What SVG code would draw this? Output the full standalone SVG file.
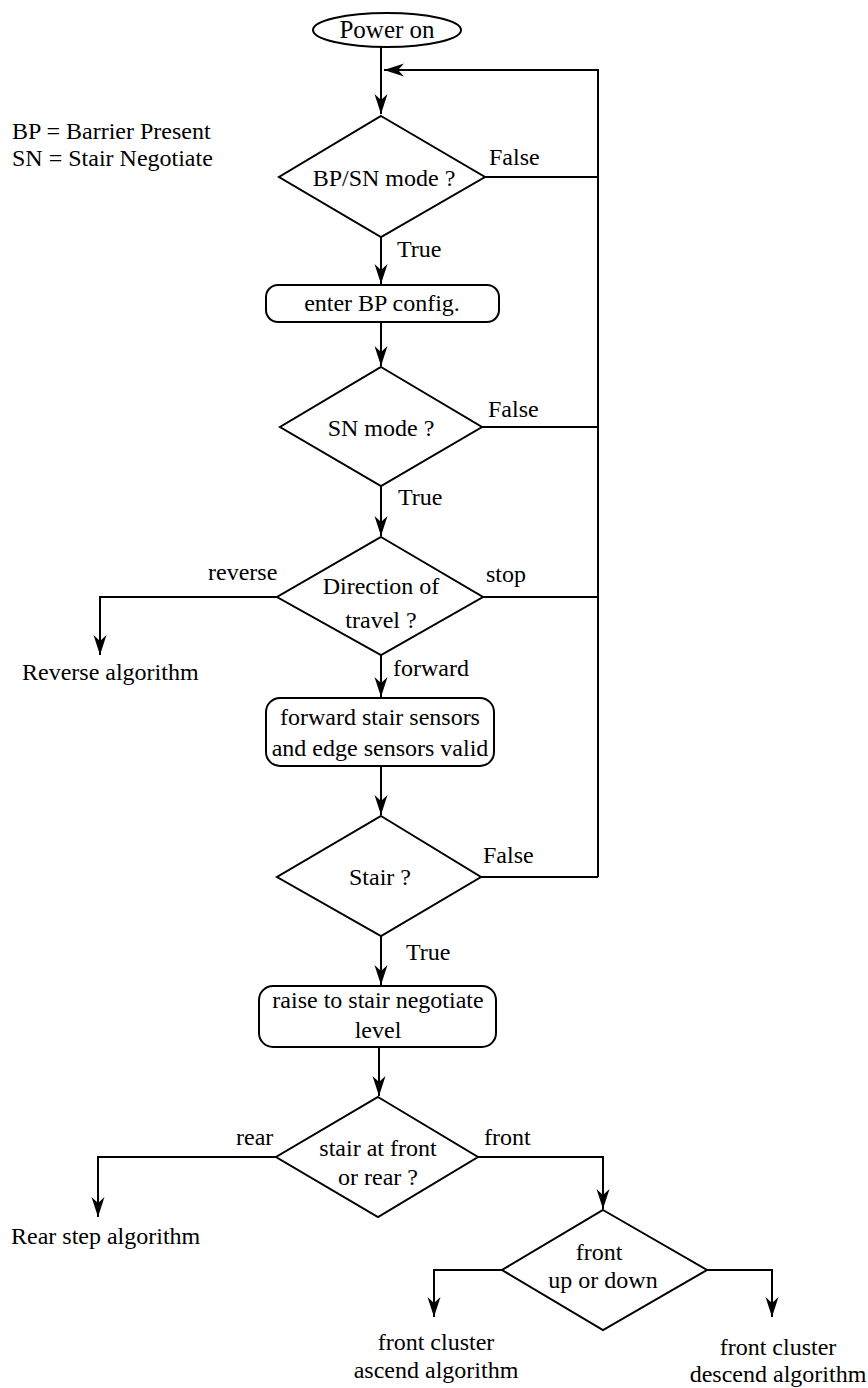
<svg xmlns="http://www.w3.org/2000/svg" width="868" height="1388" viewBox="0 0 868 1388">
<style>
text{font-family:"Liberation Serif","Times New Roman",serif;font-size:24px;fill:#000}
.c{text-anchor:middle}
.n{fill:#fff;stroke:#000;stroke-width:2}
.e{fill:none;stroke:#000;stroke-width:2}
</style>
<defs>
<marker id="ah" markerUnits="userSpaceOnUse" markerWidth="22" markerHeight="16" viewBox="-21 -8 22 16" refX="0" refY="0" orient="auto">
<path d="M0,0 L-20,-6.5 L-14,0 L-20,6.5 Z" fill="#000"/>
</marker>
</defs>
<rect width="868" height="1388" fill="#fff"/>
<g id="connectors">
<path class="e" d="M381,47 V114" marker-end="url(#ah)"/>
<path class="e" d="M598,877 V70 H384" marker-end="url(#ah)"/>
<path class="e" d="M485,177 H598"/>
<path class="e" d="M482,427 H598"/>
<path class="e" d="M483,597 H598"/>
<path class="e" d="M481,877 H598"/>
<path class="e" d="M381,237 V284" marker-end="url(#ah)"/>
<path class="e" d="M381,322 V366" marker-end="url(#ah)"/>
<path class="e" d="M381,486 V536" marker-end="url(#ah)"/>
<path class="e" d="M277,597 H100 V655" marker-end="url(#ah)"/>
<path class="e" d="M381,655 V697" marker-end="url(#ah)"/>
<path class="e" d="M381,766 V815" marker-end="url(#ah)"/>
<path class="e" d="M381,936 V985" marker-end="url(#ah)"/>
<path class="e" d="M379,1047 V1096" marker-end="url(#ah)"/>
<path class="e" d="M276,1157 H98 V1217" marker-end="url(#ah)"/>
<path class="e" d="M478,1157 H603 V1209" marker-end="url(#ah)"/>
<path class="e" d="M502,1270 H434 V1317" marker-end="url(#ah)"/>
<path class="e" d="M707,1270 H772 V1317" marker-end="url(#ah)"/>
</g>
<g id="labels">
<text x="12" y="139">BP = Barrier Present</text>
<text x="12" y="166">SN = Stair Negotiate</text>
<text x="489" y="165">False</text>
<text x="397" y="257">True</text>
<text x="488" y="417">False</text>
<text x="398" y="505">True</text>
<text x="208" y="580">reverse</text>
<text x="486" y="582">stop</text>
<text x="393" y="676">forward</text>
<text x="483" y="863">False</text>
<text x="406" y="960">True</text>
<text x="236" y="1145">rear</text>
<text x="484" y="1145">front</text>
</g>
<g id="power-on">
<ellipse class="n" cx="387" cy="30" rx="74" ry="17"/>
<text class="c" x="387" y="38" style="font-size:25px">Power on</text>
</g>
<g id="bpsn-mode">
<polygon class="n" points="381,116 485,177 381,237 279,177"/>
<text class="c" x="384" y="186">BP/SN mode ?</text>
</g>
<g id="enter-bp">
<rect class="n" x="266" y="285" width="233" height="37" rx="12"/>
<text class="c" x="382" y="311">enter BP config.</text>
</g>
<g id="sn-mode">
<polygon class="n" points="381,367 482,427 381,486 280,427"/>
<text class="c" x="381" y="436">SN mode ?</text>
</g>
<g id="direction">
<polygon class="n" points="381,537 483,597 381,655 277,597"/>
<text class="c" x="381" y="594">Direction of</text>
<text class="c" x="381" y="628">travel ?</text>
</g>
<g id="reverse-alg">
<text x="22" y="680">Reverse algorithm</text>
</g>
<g id="forward-sensors">
<rect class="n" x="266" y="698" width="228" height="68" rx="14"/>
<text class="c" x="380" y="725">forward stair sensors</text>
<text class="c" x="380" y="756">and edge sensors valid</text>
</g>
<g id="stair">
<polygon class="n" points="381,816 481,877 381,936 277,877"/>
<text class="c" x="380" y="885">Stair ?</text>
</g>
<g id="raise">
<rect class="n" x="259" y="986" width="237" height="61" rx="14"/>
<text class="c" x="378" y="1008">raise to stair negotiate</text>
<text class="c" x="378" y="1038">level</text>
</g>
<g id="front-or-rear">
<polygon class="n" points="378,1097 478,1157 378,1217 276,1157"/>
<text class="c" x="378" y="1156">stair at front</text>
<text class="c" x="378" y="1185">or rear ?</text>
</g>
<g id="rear-step">
<text x="11" y="1244">Rear step algorithm</text>
</g>
<g id="up-or-down">
<polygon class="n" points="603,1210 707,1270 603,1330 502,1270"/>
<text class="c" x="599" y="1260">front</text>
<text class="c" x="603" y="1288">up or down</text>
</g>
<g id="ascend">
<text class="c" x="436" y="1350">front cluster</text>
<text class="c" x="436" y="1378">ascend algorithm</text>
</g>
<g id="descend">
<text class="c" x="778" y="1355">front cluster</text>
<text class="c" x="778" y="1382">descend algorithm</text>
</g>
</svg>
